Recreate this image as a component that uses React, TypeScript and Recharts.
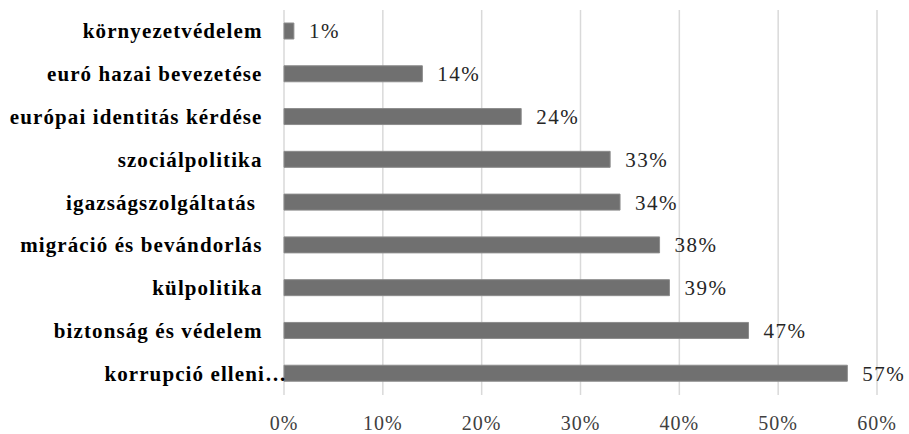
import React from "react";
import { BarChart, Bar, XAxis, YAxis, CartesianGrid, LabelList } from "recharts";

const categories = [
  "környezetvédelem",
  "euró hazai bevezetése",
  "európai identitás kérdése",
  "szociálpolitika",
  "igazságszolgáltatás\u00a0",
  "migráció és bevándorlás",
  "külpolitika",
  "biztonság és védelem",
  "korrupció elleni…",
];
const values = [0.01, 0.14, 0.24, 0.33, 0.34, 0.38, 0.39, 0.47, 0.57];
const xTicks = [0, 0.1, 0.2, 0.3, 0.4, 0.5, 0.6];

const data = categories.map((name, i) => ({ name, value: values[i] }));

const pct = (v: number) => `${Math.round(v * 100)}%`;

const SERIF = "'Liberation Serif', 'Times New Roman', serif";

const YTick = (props: any) => {
  const { x, y, payload } = props;
  const label: string = payload.value;
  const truncated = label.endsWith("…");
  return (
    <text
      x={truncated ? x + 5 : x - 19.5}
      y={y}
      textAnchor="end"
      dominantBaseline="central"
      fontFamily={SERIF}
      fontWeight="bold"
      fontSize={21}
      letterSpacing={1.1}
      fill="#000"
    >
      {label}
    </text>
  );
};

export default function App() {
  return (
    <div style={{ position: "absolute", left: 0, top: 0, background: "#fff" }}>
      <BarChart
        width={909}
        height={434}
        data={data}
        layout="vertical"
        margin={{ top: 10, right: 32, bottom: 0, left: 0 }}
        barCategoryGap={0}
      >
        <CartesianGrid horizontal={false} stroke="#d9d9d9" strokeWidth={1.5} />
        <XAxis
          type="number"
          domain={[0, 0.6]}
          ticks={xTicks}
          tickFormatter={pct}
          axisLine={false}
          tickLine={false}
          tickSize={0}
          tickMargin={21}
          height={39}
          tick={{ fontFamily: SERIF, fontSize: 20, fill: "#404040", letterSpacing: 1 }}
          interval={0}
        />
        <YAxis
          type="category"
          dataKey="name"
          width={284}
          axisLine={false}
          tickLine={false}
          tickSize={0}
          tick={<YTick />}
          interval={0}
        />
        <Bar
          dataKey="value"
          fill="#707070"
          stroke="#8c8c8c"
          strokeWidth={1}
          barSize={16}
          isAnimationActive={false}
        >
          <LabelList
            dataKey="value"
            position="right"
            offset={15}
            formatter={(v: any) => pct(Number(v))}
            style={{ fontFamily: SERIF, fontSize: 21, fill: "#262626", letterSpacing: 1.5 }}
          />
        </Bar>
      </BarChart>
    </div>
  );
}
